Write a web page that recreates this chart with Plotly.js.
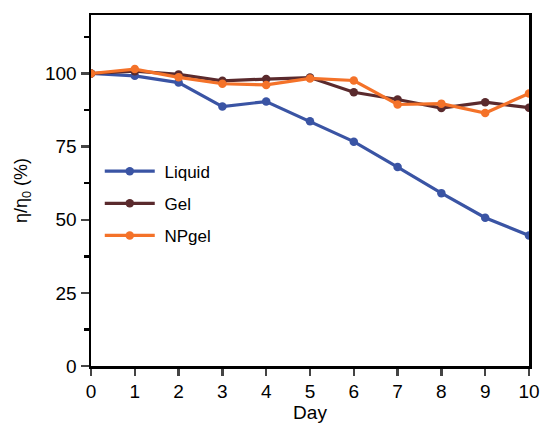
<!DOCTYPE html>
<html>
<head>
<meta charset="utf-8">
<script src="https://cdn.plot.ly/plotly-3.0.1.min.js"></script>
<style>html,body{margin:0;padding:0;background:#fff;}#chart{width:541px;height:426px;}</style>
</head>
<body>
<div id="chart"></div>
<script>
const days = [0, 1, 2, 3, 4, 5, 6, 7, 8, 9, 10];
const liquid = [100, 99.2, 96.9, 88.7, 90.4, 83.7, 76.7, 68.0, 59.1, 50.7, 44.6];
const gel = [100, 100.8, 99.7, 97.5, 98.1, 98.6, 93.6, 91.1, 88.2, 90.2, 88.3];
const npgel = [100, 101.5, 98.7, 96.5, 96.1, 98.3, 97.6, 89.4, 89.7, 86.5, 93.2];
const seriesNames = ["Liquid", "Gel", "NPgel"];
const colors = ["#3a54a4", "#5a2a2d", "#f47229"];

const font = "Liberation Sans, Arial, sans-serif";
const traces = [liquid, gel, npgel].map((ys, i) => ({
  x: days, y: ys, name: "\u00a0" + seriesNames[i], type: "scatter", mode: "lines+markers",
  legendgroup: "g" + i,
  line: {color: colors[i], width: 3.2},
  marker: {color: colors[i], size: 8.5}
}));

const layout = {
  width: 541, height: 426,
  margin: {l: 91, r: 12, t: 15, b: 60},
  paper_bgcolor: "#fff", plot_bgcolor: "#fff",
  font: {family: font, size: 19, color: "#000"},
  showlegend: true,
  legend: {x: 0.02, y: 0.605, xanchor: "left", yanchor: "top", bgcolor: "rgba(0,0,0,0)",
           itemwidth: 50,
           font: {family: font, size: 17, color: "#000"}, tracegroupgap: 7},
  xaxis: {
    range: [0, 10], tickvals: days, ticks: "outside", ticklen: 7, tickwidth: 2.5,
    showline: true, linewidth: 2.5, linecolor: "#000", mirror: true, showgrid: false, zeroline: false,
    tickfont: {family: font, size: 19},
    title: {text: "Day", font: {family: font, size: 19}, standoff: 4}
  },
  yaxis: {
    range: [0, 120], tickvals: [0, 25, 50, 75, 100], ticks: "outside", ticklen: 8, tickwidth: 2.5,
    minor: {tickvals: [12.5, 37.5, 62.5, 87.5, 112.5], ticks: "outside", ticklen: 5, tickwidth: 2.5, tickcolor: "#000"},
    showline: true, linewidth: 2.5, linecolor: "#000", mirror: true, showgrid: false, zeroline: false,
    tickfont: {family: font, size: 19},
    title: {text: "η/η<sub>0</sub> (%)", font: {family: font, size: 18}, standoff: 13}
  }
};

Plotly.newPlot("chart", traces, layout, {displayModeBar: false, staticPlot: true});
</script>
</body>
</html>
